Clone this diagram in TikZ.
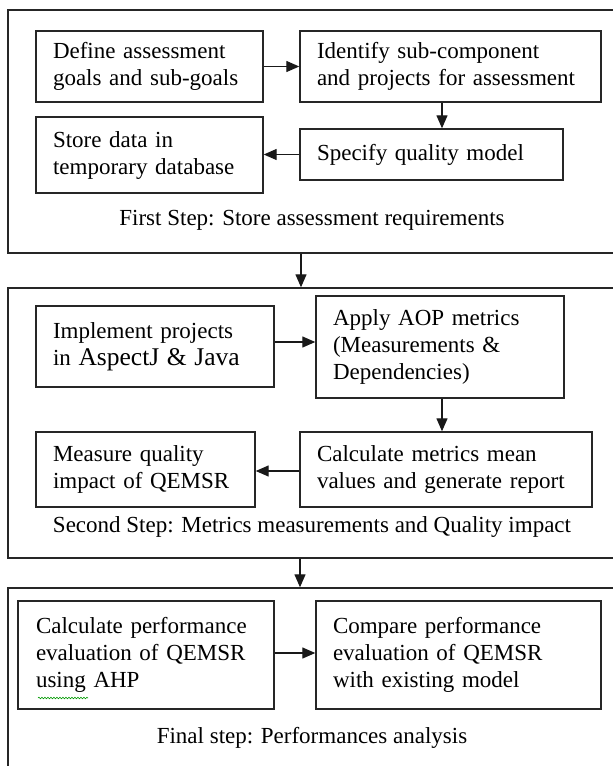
\documentclass[tikz,border=0pt]{standalone}
\usepackage{fontspec}
\setmainfont{Liberation Serif}
\usetikzlibrary{arrows.meta,decorations.pathmorphing}

\begin{document}
\begin{tikzpicture}[
  x=1pt, y=-1pt,
  stage/.style={rectangle, draw=black!85, line width=1.4pt, minimum width=608pt},
  task/.style={rectangle, draw=black!85, line width=1.4pt, align=left,
               inner xsep=17pt, inner ysep=0pt,
               font=\fontsize{23}{27}\selectfont},
  caption/.style={font=\fontsize{23}{27}\selectfont},
  arr/.style={-{Triangle[length=13pt,width=11pt]}, line width=1.3pt, black!90}
]
  \useasboundingbox (0,0) rectangle (613,766);

  % First step
  \node[stage, minimum height=243pt] (s1) at (312,131.5) {};
  \node[task, text width=193pt, minimum height=71pt] (goals) at (149.5,66.5)
    {Define assessment\\goals and sub-goals};
  \node[task, text width=267pt, minimum height=71pt] (ident) at (450.5,66.5)
    {Identify sub-component\\and projects for assessment};
  \node[task, text width=229pt, minimum height=51pt] (spec) at (431.5,154.5)
    {Specify quality model};
  \node[task, text width=193pt, minimum height=76pt] (store) at (149.5,155)
    {Store data in\\temporary database};
  \node[caption] (cap1) at (312,220) {First Step: Store assessment requirements};
  \draw[arr] (goals) -- (ident);
  \draw[arr] (ident.south -| 442,0) -- (spec.north -| 442,0);
  \draw[arr] (spec.west) -- (spec.west -| store.east);

  % Second step
  \node[stage, minimum height=270pt] (s2) at (312,423) {};
  \node[task, text width=204pt, minimum height=81pt] (impl) at (155,346.5)
    {Implement projects\\in {\fontsize{25.5}{27}\selectfont AspectJ \& Java}};
  \node[task, text width=214pt, minimum height=102pt] (aop) at (440,347)
    {Apply AOP metrics\\(Measurements \&\\Dependencies)};
  \node[task, text width=258pt, minimum height=75pt] (mean) at (446,469.5)
    {Calculate metrics mean\\values and generate report};
  \node[task, text width=185pt, minimum height=75pt] (impact) at (145.5,469.5)
    {Measure quality\\impact of QEMSR};
  \node[caption] (cap2) at (312,527)
    {Second Step: Metrics measurements and Quality impact};
  \draw[arr] (impl.east |- 0,342) -- (aop.west |- 0,342);
  \draw[arr] (aop.south -| 442,0) -- (mean.north -| 442,0);
  \draw[arr] (mean.west |- 0,471) -- (impact.east |- 0,471);

  % Final step
  \node[stage, minimum height=187pt] (s3) at (312,681.5) {};
  \node[task, text width=220pt, minimum height=108pt, inner xsep=18pt] (perf) at (146,655)
    {Calculate performance\\evaluation of QEMSR\\using AHP};
  \node[task, text width=251pt, minimum height=108pt] (comp) at (458.5,655)
    {Compare performance\\evaluation of QEMSR\\with existing model};
  \node[caption] (cap3) at (312,738) {Final step: Performances analysis};
  \draw[arr] (perf.east |- 0,653) -- (comp.west |- 0,653);
  \draw[green!60!black, line width=0.6pt, decorate,
        decoration={snake, amplitude=0.8pt, segment length=3pt}] (38,698) -- (88,698);

  % Between steps
  \draw[arr] (s1.south -| 301,0) -- (s2.north -| 301,0);
  \draw[arr] (s2.south -| 300,0) -- (s3.north -| 300,0);
\end{tikzpicture}
\end{document}
